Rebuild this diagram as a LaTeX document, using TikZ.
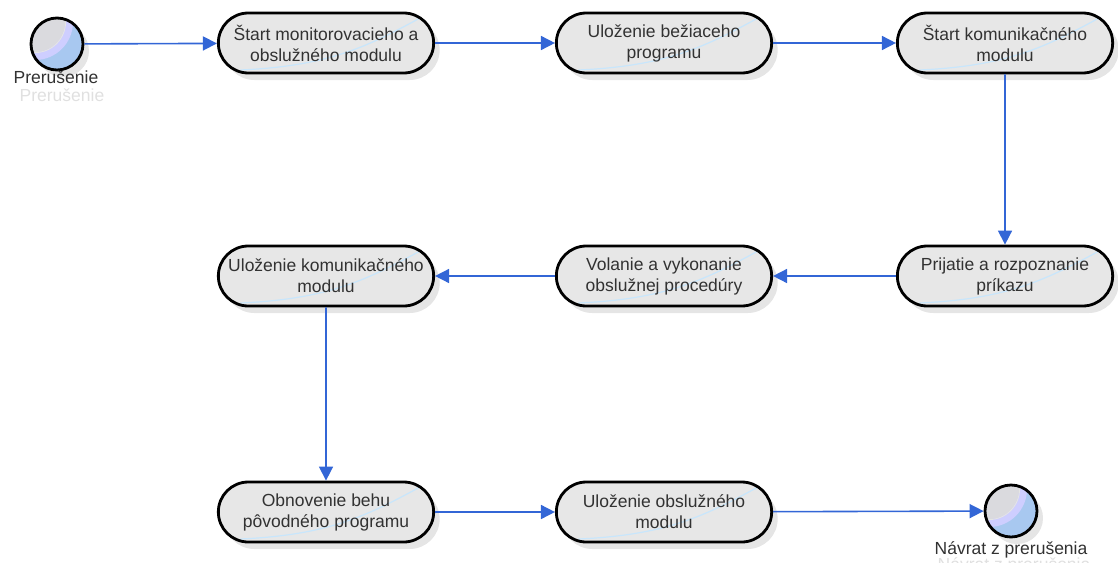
\documentclass[tikz,border=0pt]{standalone}
\usepackage{fontspec}
\setmainfont{Liberation Sans}
\usetikzlibrary{shapes.misc,arrows.meta,shadows}

\definecolor{flow}{RGB}{51,102,214}
\definecolor{boxfill}{RGB}{231,231,231}
\definecolor{glare}{RGB}{200,230,252}
\definecolor{ballblue}{RGB}{168,200,240}
\definecolor{ballviolet}{RGB}{206,206,255}
\definecolor{ballgray}{RGB}{218,218,222}
\definecolor{ink}{RGB}{50,50,50}

\tikzset{
  activity/.style={rounded rectangle, draw=black, line width=2.8pt, fill=boxfill,
    minimum width=222pt, minimum height=60pt, align=center,
    font=\fontsize{17.5}{21}\selectfont, text=ink,
    drop shadow={shadow xshift=6pt, shadow yshift=-7pt, fill=black!10, opacity=1},
    path picture={\draw[glare, line width=1.2pt]
      ([xshift=22pt,yshift=3pt]path picture bounding box.south west)
      .. controls +(90pt,4pt) and +(-55pt,-30pt) ..
      ([xshift=-10pt,yshift=-3pt]path picture bounding box.north east);}},
  terminal/.style={circle, draw=black, line width=2.8pt, minimum size=52pt, inner sep=0pt,
    fill=ballblue,
    drop shadow={shadow xshift=6pt, shadow yshift=-7pt, fill=black!10, opacity=1},
    path picture={
      \fill[ballviolet] ([xshift=-22pt,yshift=22pt]path picture bounding box.center) circle (38pt);
      \draw[white!80!gray, line width=1pt] ([xshift=-22pt,yshift=22pt]path picture bounding box.center) circle (30.5pt);
      \fill[ballgray] ([xshift=-22pt,yshift=22pt]path picture bounding box.center) circle (30pt);}},
  caption/.style={font=\fontsize{17.5}{21}\selectfont, text=ink, inner sep=0pt},
  ghost/.style={font=\fontsize{17.5}{21}\selectfont, text=black!12, inner sep=0pt},
  flowarrow/.style={draw=flow, line width=1.6pt, -{Triangle[length=14pt,width=14pt]}}
}

\begin{document}
\begin{tikzpicture}[x=1pt, y=-1pt]
  \useasboundingbox (0,0) rectangle (1118,562);

  % faint reflections of the terminal captions
  \node[ghost] (startghost) at (62,95) {Prerušenie};
  \node[ghost] (endghost) at (1014,566) {Návrat z prerušenia};

  % terminals
  \node[terminal] (start) at (57,44) {};
  \node[caption] (startlbl) at (56,77) {Prerušenie};
  \node[terminal] (stop) at (1011,511) {};
  \node[caption] (stoplbl) at (1011,550) {Návrat z prerušenia};

  % activities, first row
  \node[activity] (a1) at (326,43) {Štart monitorovacieho a\\obslužného modulu};
  \node[activity] (a2) at (664,43) {Uloženie bežiaceho\\programu};
  \node[activity] (a3) at (1005,43) {Štart komunikačného\\modulu};

  % second row
  \node[activity] (a4) at (1005,276) {Prijatie a rozpoznanie\\príkazu};
  \node[activity] (a5) at (664,276) {Volanie a vykonanie\\obslužnej procedúry};
  \node[activity] (a6) at (326,276) {Uloženie komunikačného\\modulu};

  % third row
  \node[activity] (a7) at (326,512) {Obnovenie behu\\pôvodného programu};
  \node[activity] (a8) at (664,512) {Uloženie obslužného\\modulu};

  % control flow
  \draw[flowarrow] (start) -- (a1);
  \draw[flowarrow] (a1) -- (a2);
  \draw[flowarrow] (a2) -- (a3);
  \draw[flowarrow] (a3) -- (a4);
  \draw[flowarrow] (a4) -- (a5);
  \draw[flowarrow] (a5) -- (a6);
  \draw[flowarrow] (a6) -- (a7);
  \draw[flowarrow] (a7) -- (a8);
  \draw[flowarrow] (a8) -- (stop);
\end{tikzpicture}
\end{document}
